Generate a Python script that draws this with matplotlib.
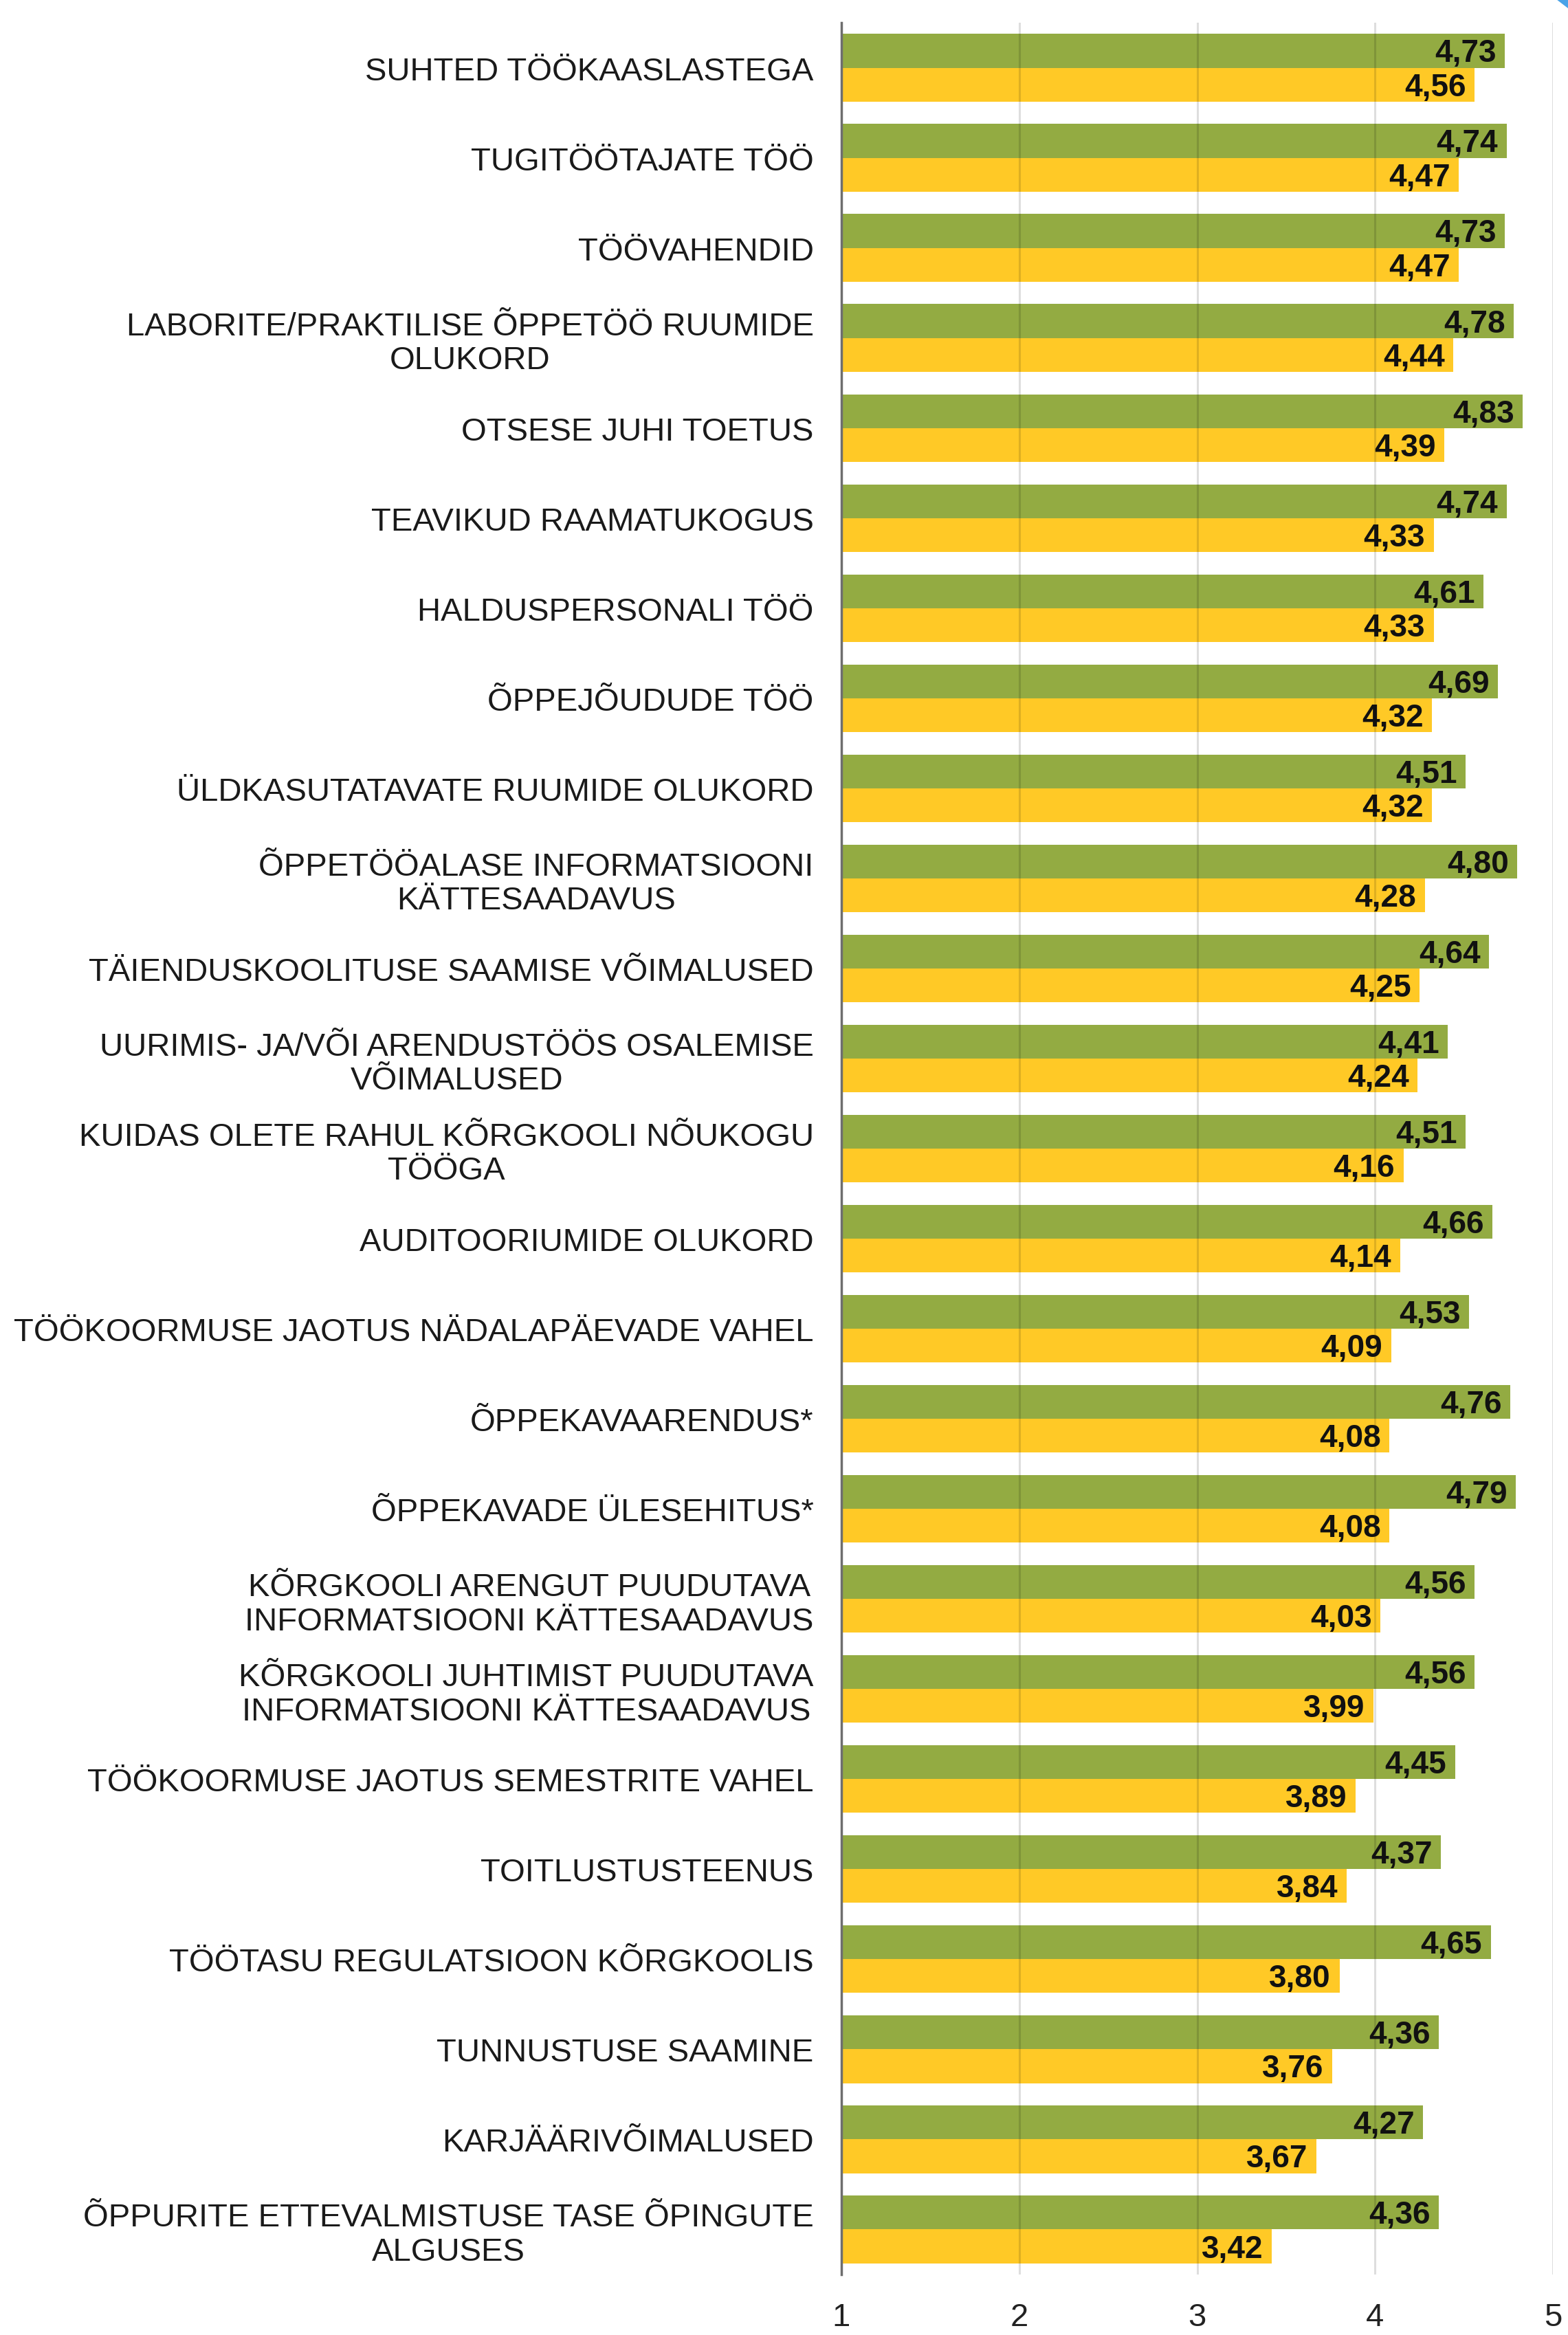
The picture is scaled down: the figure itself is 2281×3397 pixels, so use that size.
"""
Satisfaction survey: staff ratings per topic (two groups), horizontal bars.
"""

import matplotlib.pyplot as plt
from matplotlib.patches import Polygon

# =========================================================
# Data
# =========================================================

categories = [
    "SUHTED TÖÖKAASLASTEGA",
    "TUGITÖÖTAJATE TÖÖ",
    "TÖÖVAHENDID",
    "LABORITE/PRAKTILISE ÕPPETÖÖ RUUMIDE\nOLUKORD",
    "OTSESE JUHI TOETUS",
    "TEAVIKUD RAAMATUKOGUS",
    "HALDUSPERSONALI TÖÖ",
    "ÕPPEJÕUDUDE TÖÖ",
    "ÜLDKASUTATAVATE RUUMIDE OLUKORD",
    "ÕPPETÖÖALASE INFORMATSIOONI\nKÄTTESAADAVUS",
    "TÄIENDUSKOOLITUSE SAAMISE VÕIMALUSED",
    "UURIMIS- JA/VÕI ARENDUSTÖÖS OSALEMISE\nVÕIMALUSED",
    "KUIDAS OLETE RAHUL KÕRGKOOLI NÕUKOGU\nTÖÖGA",
    "AUDITOORIUMIDE OLUKORD",
    "TÖÖKOORMUSE JAOTUS NÄDALAPÄEVADE VAHEL",
    "ÕPPEKAVAARENDUS*",
    "ÕPPEKAVADE ÜLESEHITUS*",
    "KÕRGKOOLI ARENGUT PUUDUTAVA\nINFORMATSIOONI KÄTTESAADAVUS",
    "KÕRGKOOLI JUHTIMIST PUUDUTAVA\nINFORMATSIOONI KÄTTESAADAVUS",
    "TÖÖKOORMUSE JAOTUS SEMESTRITE VAHEL",
    "TOITLUSTUSTEENUS",
    "TÖÖTASU REGULATSIOON KÕRGKOOLIS",
    "TUNNUSTUSE SAAMINE",
    "KARJÄÄRIVÕIMALUSED",
    "ÕPPURITE ETTEVALMISTUSE TASE ÕPINGUTE\nALGUSES",
]

green_values = [
    4.73, 4.74, 4.73, 4.78, 4.83, 4.74, 4.61, 4.69, 4.51, 4.80,
    4.64, 4.41, 4.51, 4.66, 4.53, 4.76, 4.79, 4.56, 4.56, 4.45,
    4.37, 4.65, 4.36, 4.27, 4.36,
]

yellow_values = [
    4.56, 4.47, 4.47, 4.44, 4.39, 4.33, 4.33, 4.32, 4.32, 4.28,
    4.25, 4.24, 4.16, 4.14, 4.09, 4.08, 4.08, 4.03, 3.99, 3.89,
    3.84, 3.80, 3.76, 3.67, 3.42,
]

x_ticks = [1, 2, 3, 4, 5]

GREEN = "#93ab42"
YELLOW = "#ffc926"
FONT = "Liberation Sans"


# =========================================================
# Plot
# =========================================================

def fmt(v):
    return f"{v:.2f}".replace(".", ",")


def main():
    plt.rcParams["font.family"] = [FONT, "DejaVu Sans"]

    fig = plt.figure(figsize=(22.81, 33.98), dpi=100)
    ax = fig.add_axes([0.5366, 0.0259, 0.9904 - 0.5366, 0.99 - 0.0259])

    n = len(categories)
    pos = list(range(n))
    h = 0.375
    base = x_ticks[0]

    green_w = [v - base for v in green_values]
    yellow_w = [v - base for v in yellow_values]

    gb = ax.barh([p - h / 2 for p in pos], green_w, height=h, left=base,
                 color=GREEN, zorder=2)
    yb = ax.barh([p + h / 2 for p in pos], yellow_w, height=h, left=base,
                 color=YELLOW, zorder=2)

    for bars, vals in ((gb, green_values), (yb, yellow_values)):
        labels = ax.bar_label(bars, labels=[fmt(v) for v in vals],
                              label_type="edge", padding=-9, fontsize=33,
                              fontweight="bold", color="#111111", zorder=4)
        for t in labels:
            t.set_horizontalalignment("right")
            t.xyann = (t.xyann[0], -2.5)

    ax.set_xlim(x_ticks[0], x_ticks[-1])
    ax.set_ylim(n - 0.5, -0.5)

    ax.set_xticks(x_ticks)
    ax.set_xticklabels([str(t) for t in x_ticks])
    ax.set_yticks(pos)
    ax.set_yticklabels(categories, multialignment="center", linespacing=1.16)

    ax.tick_params(axis="x", length=0, pad=29, labelsize=34, labelcolor="#222222")
    ax.tick_params(axis="y", length=0, pad=29, labelsize=34, labelcolor="#1a1a1a")

    for x in x_ticks[1:]:
        ax.axvline(x, color="#000000", alpha=0.13, linewidth=2.2, zorder=3)

    for side in ("top", "right", "bottom"):
        ax.spines[side].set_visible(False)
    ax.spines["left"].set_color("#6e6e6e")
    ax.spines["left"].set_linewidth(2.5)
    ax.spines["left"].set_zorder(5)

    # small blue corner from the original screenshot
    fig.patches.append(Polygon([(0.9925, 1.0), (1.0, 1.0), (1.0, 0.9962)],
                               closed=True, transform=fig.transFigure,
                               facecolor="#4aa3e8", edgecolor="none"))

    fig.savefig("out.png", dpi=100, facecolor="white")
    plt.close(fig)


if __name__ == "__main__":
    main()
